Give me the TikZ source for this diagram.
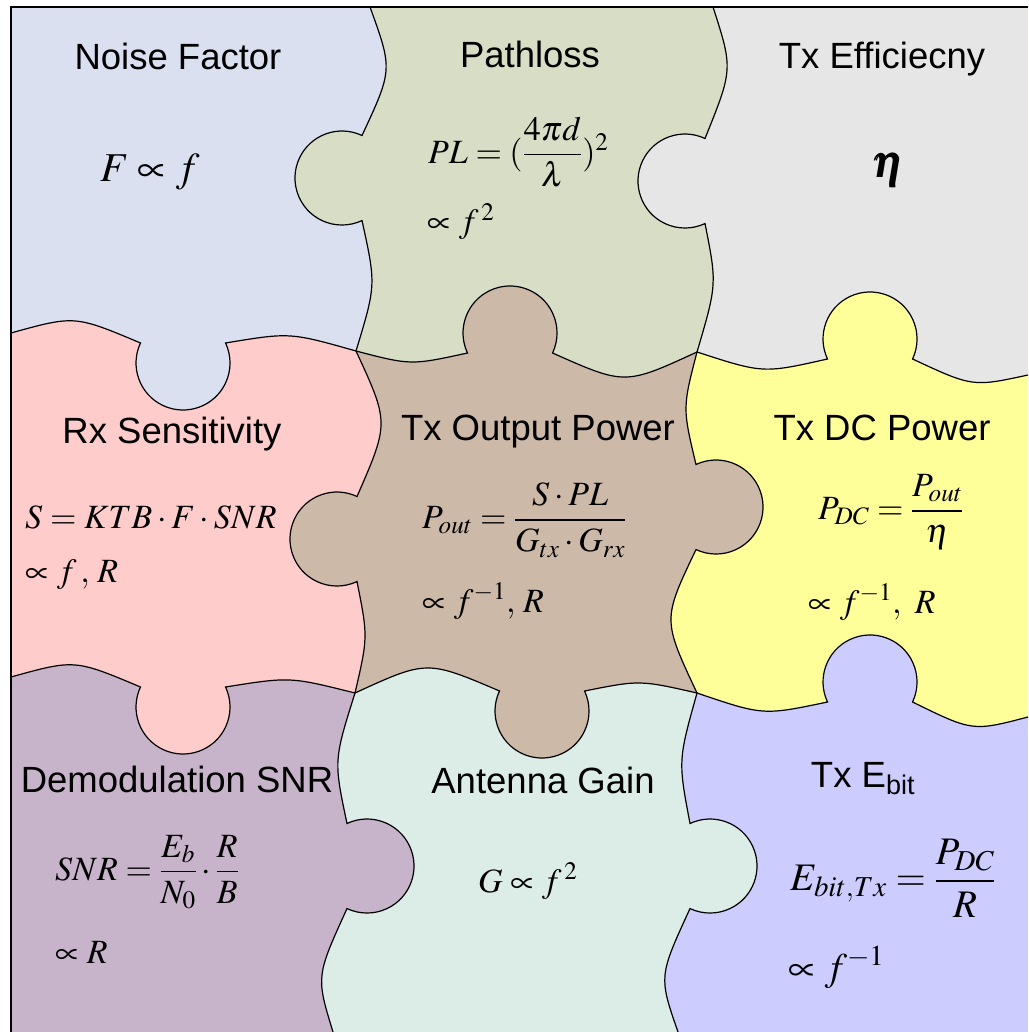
\documentclass[tikz,border=0pt]{standalone}
\usepackage{amsmath}
\usepackage{mathptmx}
\usepackage[no-math]{fontspec}
\setmainfont{Liberation Sans}
\definecolor{pzNoise}{RGB}{218,224,240}
\definecolor{pzPath}{RGB}{216,222,198}
\definecolor{pzEff}{RGB}{230,230,230}
\definecolor{pzRx}{RGB}{255,204,204}
\definecolor{pzOut}{RGB}{204,185,168}
\definecolor{pzDC}{RGB}{255,255,153}
\definecolor{pzDemod}{RGB}{200,180,202}
\definecolor{pzAnt}{RGB}{220,236,230}
\definecolor{pzEbit}{RGB}{204,204,255}

% seams between the puzzle pieces (pixel units, y downwards)
\newcommand{\seamVone}{(370,7) .. controls (392.7,69.6) .. (362,135.5)
  arc[start angle=-64.8, end angle=-295.2, radius=47]
  .. controls (376.1,284.8) .. (356,351)
  .. controls (389.2,422.8) .. (357,496.5)
  arc[start angle=-64.8, end angle=-295.2, radius=47]
  .. controls (368,636.9) .. (355,693)
  .. controls (333.7,760.6) .. (347,823.5)
  arc[start angle=-115.2, end angle=115.2, radius=47]
  .. controls (316,976.5) .. (333,1032)}
\newcommand{\seamVtwo}{(713,7) .. controls (733,69.1) .. (705,138.5)
  arc[start angle=-64.8, end angle=-295.2, radius=47]
  .. controls (717,284.1) .. (697,352)
  .. controls (682.5,407.9) .. (696,464.5)
  arc[start angle=-115.2, end angle=115.2, radius=47]
  .. controls (662.5,619.6) .. (697,693)
  .. controls (678.1,760.6) .. (690,823.5)
  arc[start angle=-115.2, end angle=115.2, radius=47]
  .. controls (658.7,976.5) .. (678,1032)}
\newcommand{\seamHone}{(11,333) .. controls (74.8,315.3) .. (140.5,343)
  arc[start angle=205.2, end angle=-25.2, radius=47]
  .. controls (289.9,332.3) .. (356,351)
  .. controls (410.9,365.3) .. (467.5,353)
  arc[start angle=154.8, end angle=385.2, radius=47]
  .. controls (624.9,385.2) .. (697,352)
  .. controls (763.1,373.5) .. (827.5,359)
  arc[start angle=154.8, end angle=385.2, radius=47]
  .. controls (972.6,387) .. (1028,375)}
\newcommand{\seamHtwo}{(11,677) .. controls (74.7,659.3) .. (140.5,687)
  arc[start angle=205.2, end angle=-25.2, radius=47]
  .. controls (289.9,676.7) .. (355,693)
  .. controls (426.9,660) .. (499.5,691)
  arc[start angle=205.2, end angle=-25.2, radius=47]
  .. controls (639.7,680) .. (697,693)
  .. controls (763.2,715.5) .. (827.5,702)
  arc[start angle=154.8, end angle=385.2, radius=47]
  .. controls (972.6,731.5) .. (1028,717)}

\begin{document}
\begin{tikzpicture}[x=1pt,y=-1pt,
  seam/.style={draw=black,line width=1.2pt},
  piecetitle/.style={anchor=base,inner sep=0pt,font=\fontsize{36.5}{40}\selectfont},
  pieceeq/.style={anchor=west,inner sep=0pt,font=\fontsize{34}{40}\selectfont},
  piecebig/.style={anchor=west,inner sep=0pt,font=\fontsize{39}{46}\selectfont}
]
  \useasboundingbox (0,0) rectangle (1028,1032);
  \begin{scope}
    \clip (11,7) rectangle (1028,1032);
    % bottom right piece fills everything first
    \fill[pzEbit] (11,7) rectangle (1028,1032);
    \fill[pzAnt] \seamVtwo -- (0,1032) -- (0,7) -- cycle;
    \fill[pzDC] \seamHtwo -- (1028,7) -- (11,7) -- cycle;
    \fill[pzDemod] \seamVone -- (0,1032) -- (0,7) -- cycle;
    \fill[pzEff] \seamHone -- (1028,7) -- (11,7) -- cycle;
    \begin{scope}
      \clip \seamHtwo -- (1028,7) -- (11,7) -- cycle;
      \fill[pzOut] \seamVtwo -- (0,1032) -- (0,7) -- cycle;
      \fill[pzRx] \seamVone -- (0,1032) -- (0,7) -- cycle;
    \end{scope}
    \begin{scope}
      \clip \seamHone -- (1028,7) -- (11,7) -- cycle;
      \fill[pzPath] \seamVtwo -- (0,1032) -- (0,7) -- cycle;
      \fill[pzNoise] \seamVone -- (0,1032) -- (0,7) -- cycle;
    \end{scope}
  \end{scope}
  % outlines
  \draw[seam] \seamVone;
  \draw[seam] \seamVtwo;
  \draw[seam] \seamHone;
  \draw[seam] \seamHtwo;
  \draw[seam] (11,1032) -- (11,7) -- (1028,7);

  % Row 1
  \node[piecetitle] (noisettl) at (178,70) {Noise Factor};
  \node[piecebig,anchor=center,font=\fontsize{41}{46}\selectfont] (noiseeq) at (150,172) {$F \propto f$};
  \node[piecetitle] (pathttl) at (530,68) {Pathloss};
  \node[pieceeq] (patheq) at (428,152) {$PL = (\dfrac{4\pi d}{\lambda})^{2}$};
  \node[pieceeq,anchor=base west] (pathprop) at (427,233) {$\propto f^{\,2}$};
  \node[piecetitle] (effttl) at (882,69) {Tx Efficiecny};
  \node[piecebig,anchor=center,font=\fontsize{46}{52}\selectfont] (effeq) at (889,170) {$\pmb{\eta}$};
  % Row 2
  \node[piecetitle] (rxttl) at (172,443) {Rx Sensitivity};
  \node[pieceeq,anchor=base west] (rxeq) at (25,528) {$S = KTB\cdot F\cdot SNR$};
  \node[pieceeq,anchor=base west] (rxprop) at (25,582) {$\propto f\,,\,R$};
  \node[piecetitle] (outttl) at (538,440) {Tx Output Power};
  \node[pieceeq] (outeq) at (422,520) {$P_{out} = \dfrac{S\cdot PL}{G_{tx}\cdot G_{rx}}$};
  \node[pieceeq,anchor=base west] (outprop) at (422,612) {$\propto f^{-1},\,R$};
  \node[piecetitle] (dcttl) at (882,440) {Tx DC Power};
  \node[pieceeq] (dceq) at (818,512) {$P_{DC} = \dfrac{P_{out}}{\eta}$};
  \node[pieceeq,anchor=base west] (dcprop) at (808,613) {$\propto f^{-1},\ R$};
  % Row 3
  \node[piecetitle] (demodttl) at (177,792) {Demodulation SNR};
  \node[pieceeq] (demodeq) at (55,872) {$SNR = \dfrac{E_b}{N_0}\cdot\dfrac{R}{B}$};
  \node[pieceeq,anchor=base west] (demodprop) at (55,963) {$\propto R$};
  \node[piecetitle] (antttl) at (543,793) {Antenna Gain};
  \node[pieceeq,anchor=base west] (anteq) at (478,892) {$G \propto f^{\,2}$};
  \node[piecetitle] (ebitttl) at (863,787) {Tx E\textsubscript{bit}};
  \node[piecebig] (ebiteq) at (790,878) {$E_{bit,Tx} = \dfrac{P_{DC}}{R}$};
  \node[piecebig,anchor=base west] (ebitprop) at (788,980) {$\propto f^{-1}$};
\end{tikzpicture}
\end{document}
